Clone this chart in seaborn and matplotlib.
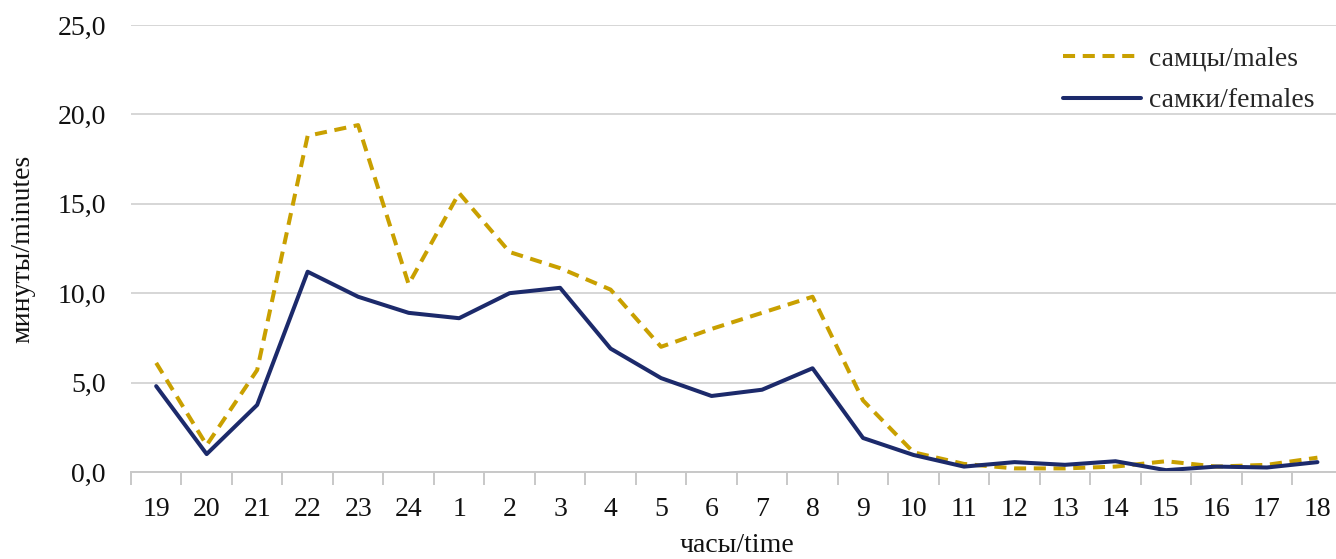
import numpy as np
import pandas as pd
import matplotlib
matplotlib.use('Agg')
import matplotlib.pyplot as plt
import seaborn as sns

hours = ['19', '20', '21', '22', '23', '24', '1', '2', '3', '4', '5', '6',
         '7', '8', '9', '10', '11', '12', '13', '14', '15', '16', '17', '18']
males = [6.1, 1.5, 5.7, 18.8, 19.4, 10.5, 15.6, 12.3, 11.4, 10.2, 7.0, 8.0,
         8.9, 9.8, 4.0, 1.1, 0.45, 0.2, 0.2, 0.3, 0.6, 0.3, 0.4, 0.8]
females = [4.8, 1.0, 3.75, 11.2, 9.8, 8.9, 8.6, 10.0, 10.3, 6.9, 5.25, 4.25,
           4.6, 5.8, 1.9, 0.95, 0.3, 0.55, 0.4, 0.6, 0.1, 0.3, 0.25, 0.55]
yticks = [0, 5, 10, 15, 20, 25]

lbl_m = 'самцы/males'
lbl_f = 'самки/females'

pos = np.arange(len(hours))
df = pd.DataFrame({'pos': np.concatenate([pos, pos]),
                   'val': males + females,
                   'sex': [lbl_m] * len(hours) + [lbl_f] * len(hours)})

sns.set_style('white')
plt.rcParams['font.family'] = ['Liberation Serif', 'DejaVu Serif']
fs = 20

fig = plt.figure(figsize=(13.36, 5.59), dpi=100)
ax = fig.add_axes([0.098, 0.1557, 0.907, 0.7996])

sns.lineplot(data=df, x='pos', y='val', hue='sex', style='sex',
             palette={lbl_m: '#C9A000', lbl_f: '#1C2A6B'},
             dashes={lbl_m: (3.0, 1.9), lbl_f: ''},
             linewidth=2.9, ax=ax)

ax.set_xlim(-0.5, len(hours) - 0.5)
ax.set_ylim(0, 25)
ax.set_yticks(yticks)
ax.set_yticklabels([f'{v:.1f}'.replace('.', ',') for v in yticks], fontsize=fs)
ax.set_xticks(pos)
ax.set_xticklabels(hours, fontsize=fs)
ax.set_xticks(np.arange(-0.5, len(hours), 1), minor=True)
ax.tick_params(axis='x', which='major', bottom=True, length=0, pad=18, colors='#111111')
ax.tick_params(axis='x', which='minor', bottom=True, length=9, width=1.4, color='#C8C8C8')
ax.tick_params(axis='y', length=0, pad=18, colors='#111111')
ax.grid(axis='y', color='#D6D6D6', linewidth=1.4)
ax.set_axisbelow(True)
for s in ['top', 'right', 'left']:
    ax.spines[s].set_visible(False)
ax.spines['bottom'].set_color('#C8C8C8')
ax.spines['bottom'].set_linewidth(1.4)

ax.set_xlabel('часы/time', fontsize=fs, labelpad=8, color='#111111')
ax.set_ylabel('минуты/minutes', fontsize=fs, labelpad=16, color='#111111')

leg = ax.legend(loc='upper left', bbox_to_anchor=(0.76, 0.978), frameon=False,
                fontsize=fs, handlelength=2.8, handletextpad=0.3,
                labelspacing=0.6, borderaxespad=0, title=None)

fig.savefig('out.png', dpi=100)
